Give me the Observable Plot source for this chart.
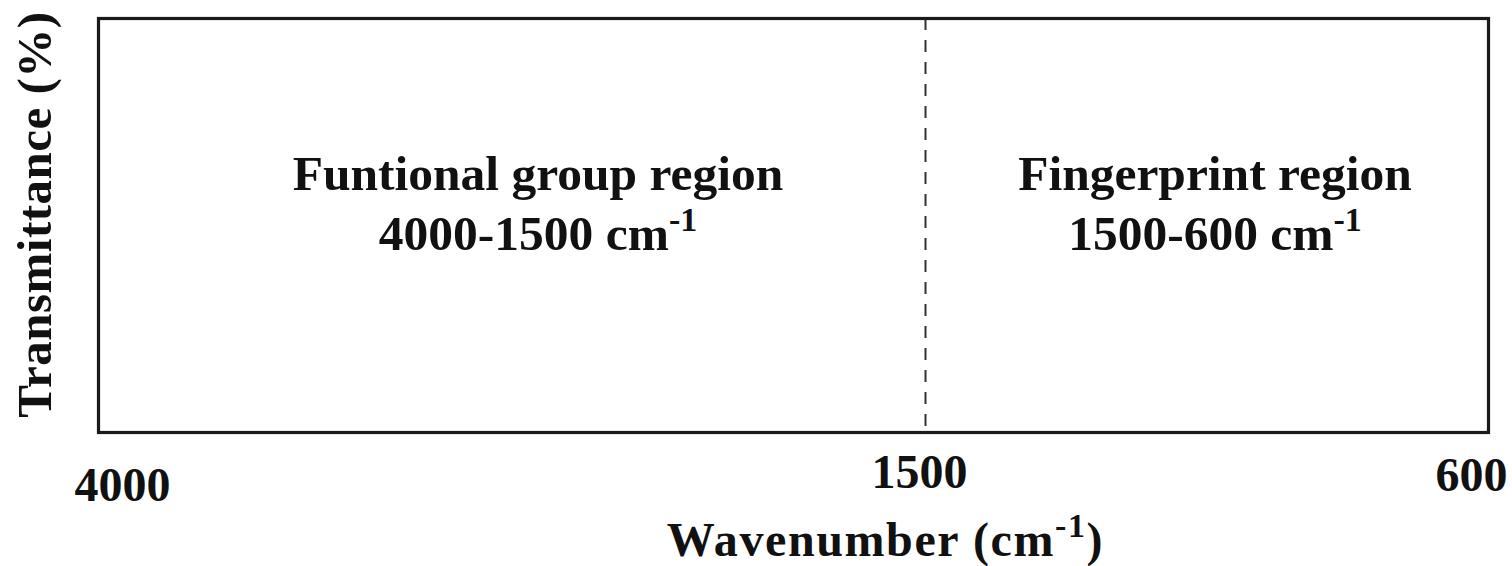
<!DOCTYPE html>
<html>
<head>
<meta charset="utf-8">
<script src="https://cdn.jsdelivr.net/npm/d3@7"></script>
<script src="https://cdn.jsdelivr.net/npm/@observablehq/plot@0.6"></script>
<style>
  html, body { margin: 0; padding: 0; background: #fff; }
  #chart svg { display: block; }
</style>
</head>
<body>
<div id="chart"></div>
<script>
// ---- data ----
const axisBreaks = [4000, 1500, 600];           // wavenumber domain (piecewise)
const tickValues = [4000, 1500, 600];           // x tick labels
const regionNames = ["Funtional group region", "Fingerprint region"];
const regionFrom = [4000, 1500];
const regionTo = [1500, 600];
const regionRanges = ["4000-1500 cm-1", "1500-600 cm-1"];
const dividers = [1500];
const xLabel = "Wavenumber (cm-1)";
const yLabel = "Transmittance (%)";

const regions = regionNames.map((name, i) => ({
  name, from: regionFrom[i], to: regionTo[i], range: regionRanges[i],
  mid: (regionFrom[i] + regionTo[i]) / 2
}));

const W = 1512, H = 566;
const mLeft = 98, mRight = 1488, mTop = 18, mBottom = 432;
const FONT = "'Liberation Serif', 'Times New Roman', serif";
const fs = 48;

const txt = { fontSize: fs, fontWeight: "bold", fill: "#111", lineAnchor: "middle" };
const rtxt = { ...txt, fontSize: 49.5 };

const tickMark = (v, dx, dy) => Plot.text([v], {
  x: d => d, frameAnchor: "bottom", dx, dy, text: d => String(d), ...txt
});

const chart = Plot.plot({
  width: W, height: H,
  marginLeft: mLeft, marginRight: W - mRight, marginTop: mTop, marginBottom: H - mBottom,
  style: { fontFamily: FONT, background: "#fff", overflow: "visible" },
  x: { type: "linear", domain: axisBreaks, range: [mLeft, 925, mRight], axis: null },
  y: { domain: [0, 100], axis: null },
  marks: [
    Plot.ruleX(dividers, { stroke: "#333", strokeWidth: 2, strokeDasharray: "12,10" }),
    Plot.frame({ stroke: "#1a1a1a", strokeWidth: 3.2 }),
    // region titles
    Plot.text([regions[0]], { x: "mid", y: 62, text: "name", dx: 26, dy: -2, ...rtxt }),
    Plot.text([regions[1]], { x: "mid", y: 62, text: "name", dx: 8, dy: -2, ...rtxt }),
    Plot.text([regions[0]], { x: "mid", y: 48, text: "range", dx: 26, ...rtxt }),
    Plot.text([regions[1]], { x: "mid", y: 48, text: "range", dx: 8, ...rtxt }),
    // tick labels
    tickMark(tickValues[0], 24, 53),
    tickMark(tickValues[1], -6, 40),
    tickMark(tickValues[2], -17, 43),
    // axis titles
    Plot.text([xLabel], { frameAnchor: "bottom", dy: 108, dx: 92, text: d => d, ...txt }),
    Plot.text([yLabel], { frameAnchor: "left", dx: -63, dy: -11, rotate: -90, textAnchor: "middle", text: d => d, ...txt, fontSize: 49 })
  ]
});

// superscript "-1" in cm-1, letter spacing on the axis titles
chart.querySelectorAll("text").forEach(t => {
  const s = t.textContent;
  if (s === xLabel) t.style.letterSpacing = "1.6px";
  if (s === yLabel) t.style.letterSpacing = "0.5px";
  const m = s.match(/^(.*cm)-1(.*)$/);
  if (!m) return;
  t.textContent = "";
  t.appendChild(document.createTextNode(m[1]));
  const sup = document.createElementNS("http://www.w3.org/2000/svg", "tspan");
  sup.setAttribute("dy", "-19");
  sup.setAttribute("font-size", "34");
  sup.textContent = "-1";
  t.appendChild(sup);
  if (m[2]) {
    const rest = document.createElementNS("http://www.w3.org/2000/svg", "tspan");
    rest.setAttribute("dy", "19");
    rest.textContent = m[2];
    t.appendChild(rest);
  }
});

document.getElementById("chart").appendChild(chart);
</script>
</body>
</html>
